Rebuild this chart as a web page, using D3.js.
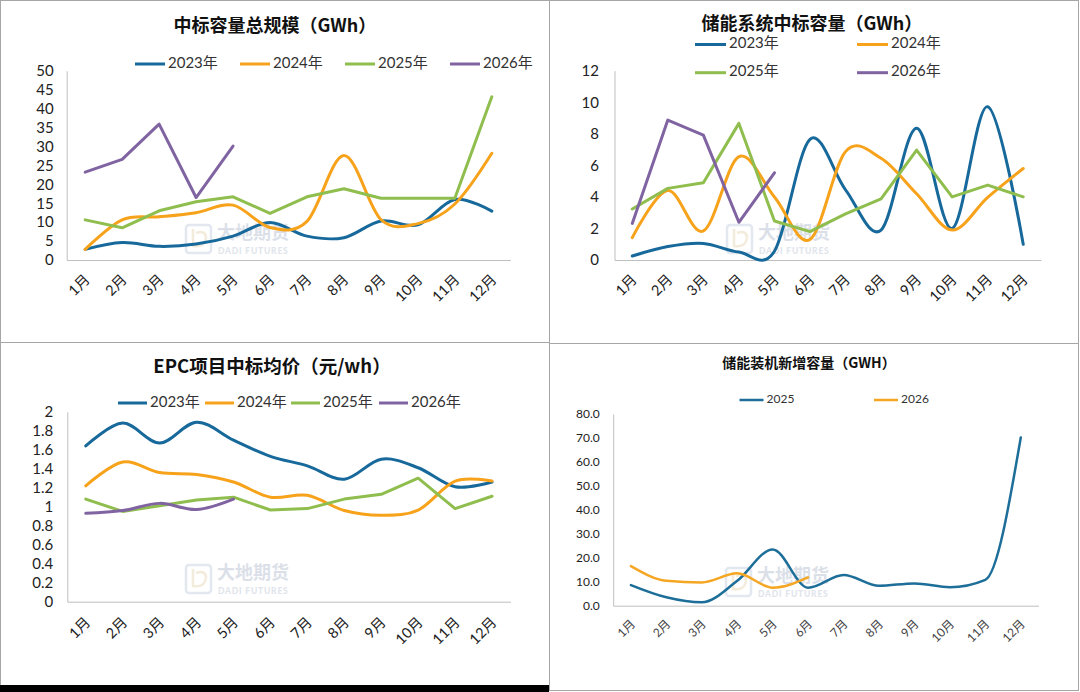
<!DOCTYPE html>
<html>
<head>
<meta charset="utf-8">
<script src="https://cdn.jsdelivr.net/npm/d3@7"></script>
<style>
  body { margin: 0; background: #fff; }
  svg { display: block; }
</style>
</head>
<body>
<svg id="chart" width="1080" height="692"></svg>
<script>
// month categories shared by all four charts
var months = ["1月", "2月", "3月", "4月", "5月", "6月", "7月", "8月", "9月", "10月", "11月", "12月"];

// chart 1: 中标容量总规模 (GWh)
var total2023 = [2.8, 4.6, 3.6, 4.2, 6.3, 9.9, 6.3, 5.9, 10.3, 9.3, 16.0, 12.9];
var total2024 = [2.8, 10.6, 11.4, 12.5, 14.5, 8.6, 10.2, 27.6, 10.7, 9.6, 14.8, 28.2];
var total2025 = [10.6, 8.5, 13.0, 15.4, 16.7, 12.3, 16.7, 18.8, 16.3, 16.3, 16.3, 43.1];
var total2026 = [23.2, 26.6, 35.9, 16.5, 30.1];
var totalTicks = [0, 5, 10, 15, 20, 25, 30, 35, 40, 45, 50];

// chart 2: 储能系统中标容量 (GWh)
var system2023 = [0.25, 0.85, 1.05, 0.5, 0.55, 7.65, 4.45, 1.9, 8.35, 2.0, 9.72, 1.0];
var system2024 = [1.42, 4.4, 1.84, 6.55, 4.0, 1.3, 6.87, 6.45, 4.2, 1.9, 3.97, 5.8];
var system2025 = [3.23, 4.54, 4.9, 8.66, 2.47, 1.8, 2.92, 3.87, 6.97, 4.0, 4.75, 4.0];
var system2026 = [2.32, 8.87, 7.92, 2.39, 5.53];
var systemTicks = [0, 2, 4, 6, 8, 10, 12];

// chart 3: EPC项目中标均价 (元/wh)
var epc2023 = [1.64, 1.88, 1.67, 1.89, 1.70, 1.53, 1.43, 1.29, 1.50, 1.41, 1.21, 1.26];
var epc2024 = [1.22, 1.47, 1.36, 1.34, 1.26, 1.10, 1.12, 0.96, 0.91, 0.965, 1.27, 1.27];
var epc2025 = [1.08, 0.95, 1.01, 1.07, 1.10, 0.965, 0.98, 1.08, 1.13, 1.30, 0.98, 1.11];
var epc2026 = [0.93, 0.96, 1.035, 0.97, 1.08];
var epcTicks = [0, 0.2, 0.4, 0.6, 0.8, 1, 1.2, 1.4, 1.6, 1.8, 2];

// chart 4: 储能装机新增容量 (GWH)
var install2025 = [8.6, 3.5, 1.4, 10.4, 23.5, 7.5, 12.8, 8.3, 9.3, 7.7, 10.8, 70.2];
var install2026 = [16.5, 10.4, 9.7, 13.5, 7.5, 11.8];
var installTicks = [0, 10, 20, 30, 40, 50, 60, 70, 80];

var colors = { blue: "#17699b", orange: "#f7a21b", green: "#8fbe4e", purple: "#8064a2" };
var latin = "Lato, 'Noto Sans CJK SC', sans-serif";
var cjk = "'Noto Sans CJK SC', Lato, sans-serif";

var svg = d3.select("#chart");

// panel frames (screenshot borders)
var frame = svg.append("g").attr("stroke", "#a6a6a6").attr("fill", "none");
frame.append("line").attr("x1", 0.5).attr("y1", 0).attr("x2", 0.5).attr("y2", 685);
frame.append("line").attr("x1", 0).attr("y1", 0.5).attr("x2", 1079).attr("y2", 0.5);
frame.append("line").attr("x1", 1078.5).attr("y1", 0).attr("x2", 1078.5).attr("y2", 690);
frame.append("line").attr("x1", 549.5).attr("y1", 0).attr("x2", 549.5).attr("y2", 690);
frame.append("line").attr("x1", 0).attr("y1", 342.5).attr("x2", 549).attr("y2", 342.5);
frame.append("line").attr("x1", 549).attr("y1", 343.5).attr("x2", 1079).attr("y2", 343.5);
frame.append("line").attr("x1", 549).attr("y1", 690.5).attr("x2", 1079).attr("y2", 690.5);
svg.append("rect").attr("x", 0).attr("y", 685).attr("width", 549).attr("height", 7).attr("fill", "#000");

function watermark(x, y) {
    var g = svg.append("g").attr("transform", "translate(" + x + "," + y + ")").attr("opacity", 0.5);
    g.append("rect").attr("x", 0).attr("y", 0).attr("width", 25).attr("height", 28).attr("rx", 3)
        .attr("fill", "none").attr("stroke", "#c9d3e3").attr("stroke-width", 2.5);
    g.append("path").attr("d", "M7,4 L7,21 Q19,23 20,12 Q19,5 10,8")
        .attr("fill", "none").attr("stroke", "#e8d9b8").attr("stroke-width", 2.5);
    g.append("text").attr("x", 31).attr("y", 14).text("大地期货")
        .attr("font-family", cjk).attr("font-weight", 700).attr("font-size", 18).attr("fill", "#b9c3d3");
    g.append("text").attr("x", 32).attr("y", 29).text("DADI FUTURES")
        .attr("font-family", latin).attr("font-weight", 900).attr("font-size", 8.5)
        .attr("letter-spacing", 0.8).attr("fill", "#c4ccd9");
}

function drawPanel(p) {
    var x = d3.scaleBand().domain(months).range([p.x0, p.x1]);
    var y = d3.scaleLinear().domain([0, p.yMax]).range([p.y0, p.yTop]);

    svg.append("text")
        .attr("x", p.titleX).attr("y", p.titleY)
        .attr("text-anchor", "middle").attr("dominant-baseline", "middle")
        .attr("font-family", cjk).attr("font-weight", 700).attr("font-size", p.titleSize)
        .attr("fill", "#111").text(p.title);

    // y axis
    var yAxis = svg.append("g")
        .attr("transform", "translate(" + p.x0 + ",0)")
        .call(d3.axisLeft(y).tickValues(p.ticks).tickFormat(p.fmt).tickSize(0).tickSizeOuter(0).tickPadding(p.yPad));
    yAxis.select(".domain").attr("stroke", "#bfbfbf");
    yAxis.selectAll("text").attr("font-family", latin).attr("font-size", p.tickSize).attr("fill", "#222");

    // x axis with rotated labels
    var xAxis = svg.append("g")
        .attr("transform", "translate(0," + p.y0 + ")")
        .call(d3.axisBottom(x).tickSize(0).tickSizeOuter(0));
    xAxis.select(".domain").attr("stroke", "#bfbfbf");
    xAxis.selectAll("text")
        .attr("font-family", latin).attr("font-size", p.xSize).attr("fill", p.xColor)
        .attr("text-anchor", "end")
        .attr("y", 0).attr("dy", "0.35em")
        .attr("transform", "translate(2," + p.xOff + ") rotate(-45)");

    watermark(p.wmX, p.wmY);

    p.series.forEach(function (s) {
        var line = d3.line()
            .x(function (d, i) { return x(months[i]) + x.bandwidth() / 2; })
            .y(function (d) { return y(d); })
            .curve(s.curve);
        svg.append("path").datum(s.values)
            .attr("d", line)
            .attr("fill", "none").attr("stroke", s.color)
            .attr("stroke-width", p.lineWidth)
            .attr("stroke-linejoin", "round").attr("stroke-linecap", "round");
    });

    // legend
    p.series.forEach(function (s, i) {
        var pos = p.legend[i];
        svg.append("line")
            .attr("x1", pos[0]).attr("x2", pos[0] + p.legLen)
            .attr("y1", pos[1]).attr("y2", pos[1])
            .attr("stroke", s.color).attr("stroke-width", p.lineWidth);
        svg.append("text")
            .attr("x", pos[0] + p.legLen + 3).attr("y", pos[1])
            .attr("dominant-baseline", "middle")
            .attr("font-family", latin).attr("font-size", p.legSize).attr("fill", "#333")
            .text(s.name);
    });
}

var plain = function (d) { return String(d); };
var smooth = d3.curveCardinal.tension(0);
var straight = d3.curveLinear;

drawPanel({
    title: "中标容量总规模（GWh）", titleX: 275, titleY: 27, titleSize: 18,
    x0: 66.7, x1: 510.3, y0: 260, yTop: 70.7, yMax: 50, ticks: totalTicks, fmt: plain,
    yPad: 13, tickSize: 15, xSize: 14.5, xColor: "#222", xOff: 17, lineWidth: 3,
    wmX: 186, wmY: 225,
    legLen: 30, legSize: 15,
    legend: [[135, 64], [240, 64], [345, 64], [450, 64]],
    series: [
        { name: "2023年", values: total2023, color: colors.blue, curve: smooth },
        { name: "2024年", values: total2024, color: colors.orange, curve: smooth },
        { name: "2025年", values: total2025, color: colors.green, curve: straight },
        { name: "2026年", values: total2026, color: colors.purple, curve: straight }
    ]
});

drawPanel({
    title: "储能系统中标容量（GWh）", titleX: 812, titleY: 25, titleSize: 18,
    x0: 614.5, x1: 1041, y0: 260, yTop: 70.7, yMax: 12, ticks: systemTicks, fmt: plain,
    yPad: 15.5, tickSize: 15, xSize: 14.5, xColor: "#222", xOff: 17, lineWidth: 3,
    wmX: 727, wmY: 225,
    legLen: 31, legSize: 15,
    legend: [[695, 44.5], [857, 44.5], [695, 72.7], [857, 72.7]],
    series: [
        { name: "2023年", values: system2023, color: colors.blue, curve: smooth },
        { name: "2024年", values: system2024, color: colors.orange, curve: smooth },
        { name: "2025年", values: system2025, color: colors.green, curve: straight },
        { name: "2026年", values: system2026, color: colors.purple, curve: straight }
    ]
});

drawPanel({
    title: "EPC项目中标均价（元/wh）", titleX: 272, titleY: 368, titleSize: 18.5,
    x0: 67.3, x1: 510.5, y0: 601.7, yTop: 411.7, yMax: 2, ticks: epcTicks, fmt: plain,
    yPad: 14, tickSize: 15, xSize: 14.5, xColor: "#222", xOff: 18, lineWidth: 3,
    wmX: 186, wmY: 565,
    legLen: 29, legSize: 15,
    legend: [[118, 403], [205, 403], [291, 403], [379, 403]],
    series: [
        { name: "2023年", values: epc2023, color: colors.blue, curve: smooth },
        { name: "2024年", values: epc2024, color: colors.orange, curve: smooth },
        { name: "2025年", values: epc2025, color: colors.green, curve: straight },
        { name: "2026年", values: epc2026, color: colors.purple, curve: smooth }
    ]
});

drawPanel({
    title: "储能装机新增容量（GWH）", titleX: 809, titleY: 364, titleSize: 14,
    x0: 613.2, x1: 1038.5, y0: 605.7, yTop: 414, yMax: 80, ticks: installTicks, fmt: d3.format(".1f"),
    yPad: 13.5, tickSize: 12, xSize: 12, xColor: "#444", xOff: 16, lineWidth: 2.5,
    wmX: 726, wmY: 568,
    legLen: 24, legSize: 12,
    legend: [[739.5, 400], [874, 400]],
    series: [
        { name: "2025", values: install2025, color: "#1d6e99", curve: d3.curveMonotoneX },
        { name: "2026", values: install2026, color: "#f5a623", curve: d3.curveMonotoneX }
    ]
});
</script>
</body>
</html>
